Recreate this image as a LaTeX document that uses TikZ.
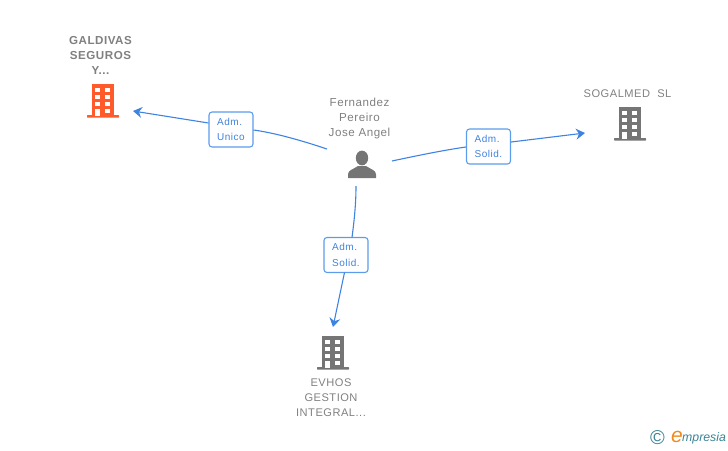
\documentclass[tikz,border=0pt]{standalone}
\usepackage{fontspec}
\setmainfont{Liberation Sans}
\newfontfamily\namefont[LetterSpace=4.5]{Liberation Sans}
\newfontfamily\boxfont[LetterSpace=5]{Liberation Sans}
\usetikzlibrary{arrows.meta}
\definecolor{linkblue}{HTML}{3F83E0}
\definecolor{boxblue}{HTML}{5C9CEC}
\definecolor{labelgray}{HTML}{808080}
\definecolor{icongray}{HTML}{757575}
\definecolor{iconorange}{HTML}{FF5A2B}
\definecolor{logoteal}{HTML}{3A8296}
\definecolor{logoorange}{HTML}{F08A1D}
\tikzset{
  namelabel/.style={text=labelgray,align=center,inner sep=0pt,font=\namefont\fontsize{11.1}{15}\selectfont},
  rolebox/.style={draw=boxblue,line width=1.1pt,rounded corners=3pt,fill=white,minimum width=44pt,minimum height=35pt,inner sep=0pt,text=linkblue,font=\boxfont\fontsize{10}{15.5}\selectfont},
  link/.style={draw=linkblue,line width=1.1pt},
  linkarrow/.style={link,-{Stealth[length=9pt,width=11pt,inset=3pt]}},
  pics/building/.style={code={
    \fill[#1] (0,0) rectangle (22,33);
    \fill[#1,rounded corners=0.6pt] (-5,31) rectangle (27,33.6);
    \foreach \yy in {4,11,18}{
      \fill[white] (3,\yy) rectangle (8,\yy+4.2);
      \fill[white] (13,\yy) rectangle (18,\yy+4.2);
    }
    \fill[white] (3,24.5) rectangle (8,31.5);
    \fill[white] (13,24.5) rectangle (18,28.5);
  }}
}
\begin{document}
\begin{tikzpicture}[x=1pt,y=-1pt]
\useasboundingbox (0,0) rectangle (728,450);
% building icons
\pic at (92,84) {building=iconorange};
\pic at (619,107) {building=icongray};
\pic at (322,336) {building=icongray};
% person icon
\fill[icongray] (362,158) ellipse (6.2 and 7.4);
\fill[icongray] (348,178) -- (348,174.5) .. controls (348,170) and (353,169.5) .. (358,166) -- (366,166) .. controls (371,169.5) and (376,170) .. (376,174.5) -- (376,178) -- cycle;
% name labels
\node[namelabel,font=\namefont\bfseries\fontsize{11.6}{15}\selectfont] (galdivas) at (100.5,55.7) {GALDIVAS\\SEGUROS\\Y...};
\node[namelabel,font=\namefont\fontsize{11.6}{15}\selectfont] (person) at (359.5,118) {Fernandez\\Pereiro\\Jose Angel};
\node[namelabel] (sogalmed) at (627.5,94) {SOGALMED\ \ SL};
\node[namelabel] (evhos) at (331,397.7) {EVHOS\\GESTION\\INTEGRAL...};
% role boxes
\node[rolebox,align=left] (r1) at (231,129.5) {Adm.\\Unico};
\node[rolebox,align=left] (r2) at (488.5,146.5) {Adm.\\Solid.};
\node[rolebox,align=left] (r3) at (346,255) {Adm.\\Solid.};
% connector ends
\coordinate (pl) at (327,149);
\coordinate (pr) at (392,161);
\coordinate (pd) at (356,186);
\coordinate (bl) at (133,111);
\coordinate (br) at (585,133);
\coordinate (bd) at (333,327);
\coordinate (r1e) at (r1.east |- 0,130);
\coordinate (r1w) at (r1.west |- 0,123);
\coordinate (r2w) at (r2.west |- 0,147);
\coordinate (r2e) at (r2.east |- 0,142);
\coordinate (r3n) at (352,237.5);
\coordinate (r3s) at (344.5,272.5);
% connectors
\draw[link] (pl) .. controls (300,140) and (275,133) .. (r1e);
\draw[linkarrow] (r1w) -- (bl);
\draw[link] (pr) .. controls (420,155) and (445,150) .. (r2w);
\draw[linkarrow] (r2e) -- (br);
\draw[link] (pd) .. controls (356,205) and (354,222) .. (r3n);
\draw[linkarrow] (r3s) -- (bd);
% logo
\node[inner sep=0pt,text=logoteal,font=\fontsize{20}{20}\selectfont] (copy) at (657.5,438) {©};
\node[inner sep=0pt,text=logoorange,font=\fontsize{21}{21}\selectfont\itshape] (logoe) at (677,436.5) {e};
\node[inner sep=0pt,anchor=west,text=logoteal,font=\fontsize{12.3}{12}\selectfont\itshape] (logot) at (682,438.5) {mpresia};
\end{tikzpicture}
\end{document}
